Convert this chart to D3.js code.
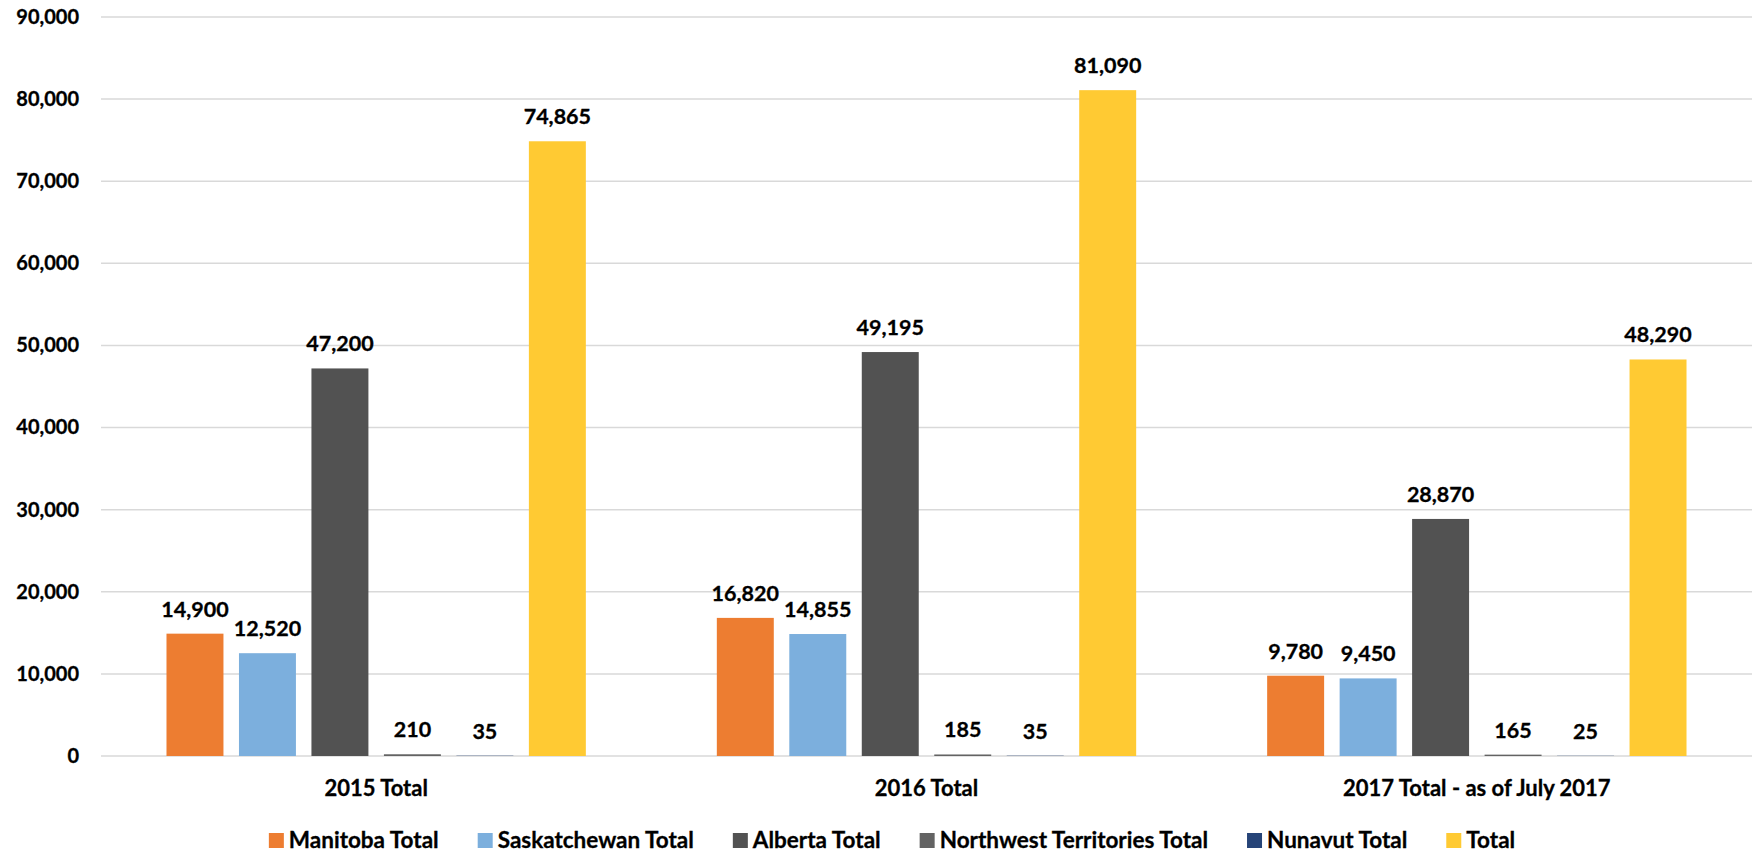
<!DOCTYPE html>
<html>
<head>
<meta charset="utf-8">
<script src="https://cdn.jsdelivr.net/npm/d3@7"></script>
<style>
  body { margin: 0; background: #fff; }
  svg text { font-family: Lato, "Open Sans", sans-serif; font-weight: bold; fill: #000; stroke: #000; stroke-width: 0.3px; }
</style>
</head>
<body>
<svg id="chart"></svg>
<script>
// chart data
const categories = ["2015 Total", "2016 Total", "2017 Total - as of July 2017"];
const seriesNames = ["Manitoba Total", "Saskatchewan Total", "Alberta Total",
  "Northwest Territories Total", "Nunavut Total", "Total"];
const manitoba = [14900, 16820, 9780];
const saskatchewan = [12520, 14855, 9450];
const alberta = [47200, 49195, 28870];
const northwest = [210, 185, 165];
const nunavut = [35, 35, 25];
const totals = [74865, 81090, 48290];
const yTicks = [0, 10000, 20000, 30000, 40000, 50000, 60000, 70000, 80000, 90000];

const seriesValues = [manitoba, saskatchewan, alberta, northwest, nunavut, totals];
const colors = ["#ED7D31", "#7CAFDD", "#525252", "#636363", "#264478", "#FFCA33"];

const width = 1754, height = 852;
const margin = { top: 17, right: 2, bottom: 96, left: 101 };
const innerW = width - margin.left - margin.right;
const innerH = height - margin.top - margin.bottom;

const svg = d3.select("#chart").attr("width", width).attr("height", height);
const chart = svg.append("g")
  .attr("transform", `translate(${margin.left},${margin.top})`);

// scales
const y = d3.scaleLinear().domain([0, 90000]).range([innerH, 0]);
const x0 = d3.scaleBand().domain(categories).range([0, innerW])
  .paddingInner(0.238).paddingOuter(0.119);
const x1 = d3.scaleBand().domain(seriesNames).range([0, x0.bandwidth()])
  .paddingInner(0.214);

// gridlines
chart.append("g")
  .selectAll("line")
  .data(yTicks)
  .join("line")
  .attr("x1", 0)
  .attr("x2", innerW)
  .attr("y1", d => y(d))
  .attr("y2", d => y(d))
  .attr("stroke", "#D9D9D9")
  .attr("stroke-width", 1.5);

// y axis labels
const yAxis = d3.axisLeft(y).tickValues(yTicks).tickFormat(d3.format(",")).tickSize(0).tickPadding(22);
const yAxisG = chart.append("g").call(yAxis);
yAxisG.select(".domain").remove();
yAxisG.selectAll("text").style("font-size", "20px").attr("font-family", null).attr("fill", "#000");

// x axis labels
const xAxis = d3.axisBottom(x0).tickSize(0).tickPadding(24);
const xAxisG = chart.append("g").attr("transform", `translate(0,${innerH})`).call(xAxis);
xAxisG.select(".domain").remove();
xAxisG.selectAll("text").style("font-size", "22px").attr("font-family", null).attr("fill", "#000");

// bars
const rows = categories.map((c, i) => ({
  category: c,
  values: seriesNames.map((s, j) => ({ key: s, value: seriesValues[j][i], color: colors[j] }))
}));

const groups = chart.selectAll(".group")
  .data(rows)
  .join("g")
  .attr("class", "group")
  .attr("transform", d => `translate(${x0(d.category)},0)`);

groups.selectAll("rect")
  .data(d => d.values)
  .join("rect")
  .attr("x", d => x1(d.key))
  .attr("y", d => y(d.value))
  .attr("width", x1.bandwidth())
  .attr("height", d => innerH - y(d.value))
  .attr("fill", d => d.color);

// value labels
groups.selectAll(".value-label")
  .data(d => d.values)
  .join("text")
  .attr("class", "value-label")
  .attr("x", d => x1(d.key) + x1.bandwidth() / 2)
  .attr("y", d => y(d.value) - 17)
  .attr("text-anchor", "middle")
  .style("font-size", "21.5px")
  .text(d => d3.format(",")(d.value));

// legend
const legend = svg.append("g");
const items = legend.selectAll("g")
  .data(seriesNames)
  .join("g");
items.append("rect")
  .attr("width", 15)
  .attr("height", 15)
  .attr("y", -15)
  .attr("fill", (d, i) => colors[i]);
items.append("text")
  .attr("x", 20)
  .style("font-size", "22.5px")
  .text(d => d);

let offset = 0;
items.each(function () {
  d3.select(this).attr("transform", `translate(${offset},0)`);
  offset += this.getBBox().width + 39;
});
const legendW = offset - 39;
legend.attr("transform", `translate(${892 - legendW / 2},848)`);
</script>
</body>
</html>
